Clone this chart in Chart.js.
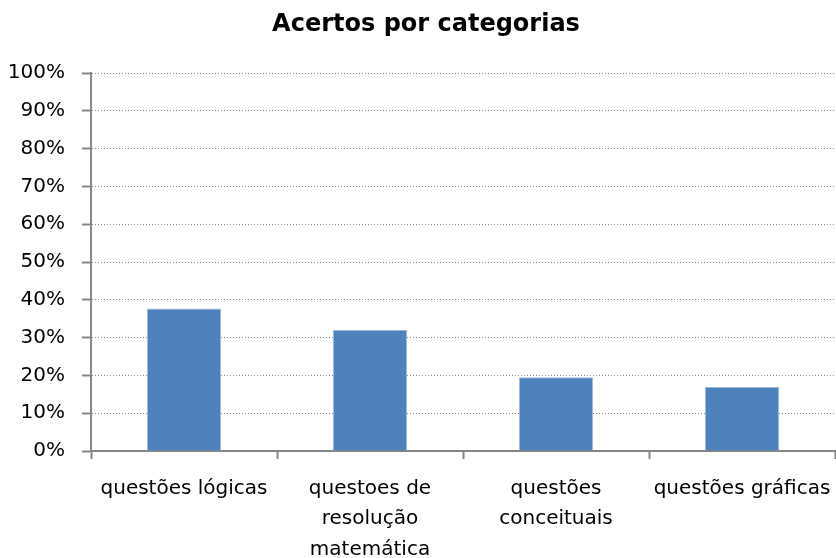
<!DOCTYPE html>
<html>
<head>
<meta charset="utf-8">
<script src="https://cdn.jsdelivr.net/npm/chart.js@4/dist/chart.umd.min.js"></script>
<style>
html,body{margin:0;padding:0;background:#fff;}
#wrap{width:836px;height:558px;}
</style>
</head>
<body>
<div id="wrap"><canvas id="c" width="836" height="558"></canvas></div>
<script>
const categories = ["questões lógicas", ["questoes de", "resolução", "matemática"], ["questões", "conceituais"], "questões gráficas"];
const values = [37.7, 32.0, 19.5, 16.9];
const yMin = 0, yMax = 100, yStep = 10;
const titleText = "Acertos por categorias";

const axisGray = '#868686';
const FONT = "'DejaVu Sans', sans-serif";

const titlePlugin = {
  id: 'offsetTitle',
  afterDraw(chart) {
    const ctx = chart.ctx;
    ctx.save();
    ctx.font = "bold 24px " + FONT;
    ctx.fillStyle = '#000';
    ctx.textAlign = 'center';
    ctx.textBaseline = 'middle';
    ctx.fillText(titleText, 426, 25);
    ctx.restore();
  }
};

new Chart(document.getElementById('c'), {
  type: 'bar',
  data: {
    labels: categories,
    datasets: [{
      data: values,
      backgroundColor: '#4F81BD',
      borderColor: '#9fb9db',
      borderWidth: 1,
      categoryPercentage: 1.0,
      barPercentage: 0.4
    }]
  },
  plugins: [titlePlugin],
  options: {
    responsive: false,
    animation: false,
    devicePixelRatio: 1,
    layout: { padding: { left: 0, right: 1, top: 73, bottom: 0 } },
    plugins: {
      legend: { display: false },
      tooltip: { enabled: false },
      title: { display: false }
    },
    scales: {
      y: {
        min: yMin, max: yMax,
        ticks: {
          stepSize: yStep,
          color: '#000',
          padding: 17,
          font: { family: FONT, size: 20 },
          callback: v => v + '%'
        },
        grid: {
          color: axisGray,
          lineWidth: 1,
          drawTicks: true,
          tickLength: 9,
          tickColor: axisGray,
          tickWidth: 2,
          tickBorderDash: []
        },
        border: { display: true, color: axisGray, width: 2, dash: [1, 2] },
        afterFit: s => { s.width = 91; }
      },
      x: {
        ticks: {
          color: '#000',
          padding: 14,
          maxRotation: 0,
          autoSkip: false,
          font: { family: FONT, size: 20, lineHeight: 1.53 }
        },
        grid: {
          display: true,
          drawOnChartArea: false,
          drawTicks: true,
          tickLength: 8,
          tickColor: axisGray,
          tickWidth: 2,
          offset: true
        },
        border: { display: true, color: axisGray, width: 2 },
        afterFit: s => { s.height = 107; s.paddingLeft = 0; s.paddingRight = 0; }
      }
    }
  }
});
</script>
</body>
</html>
